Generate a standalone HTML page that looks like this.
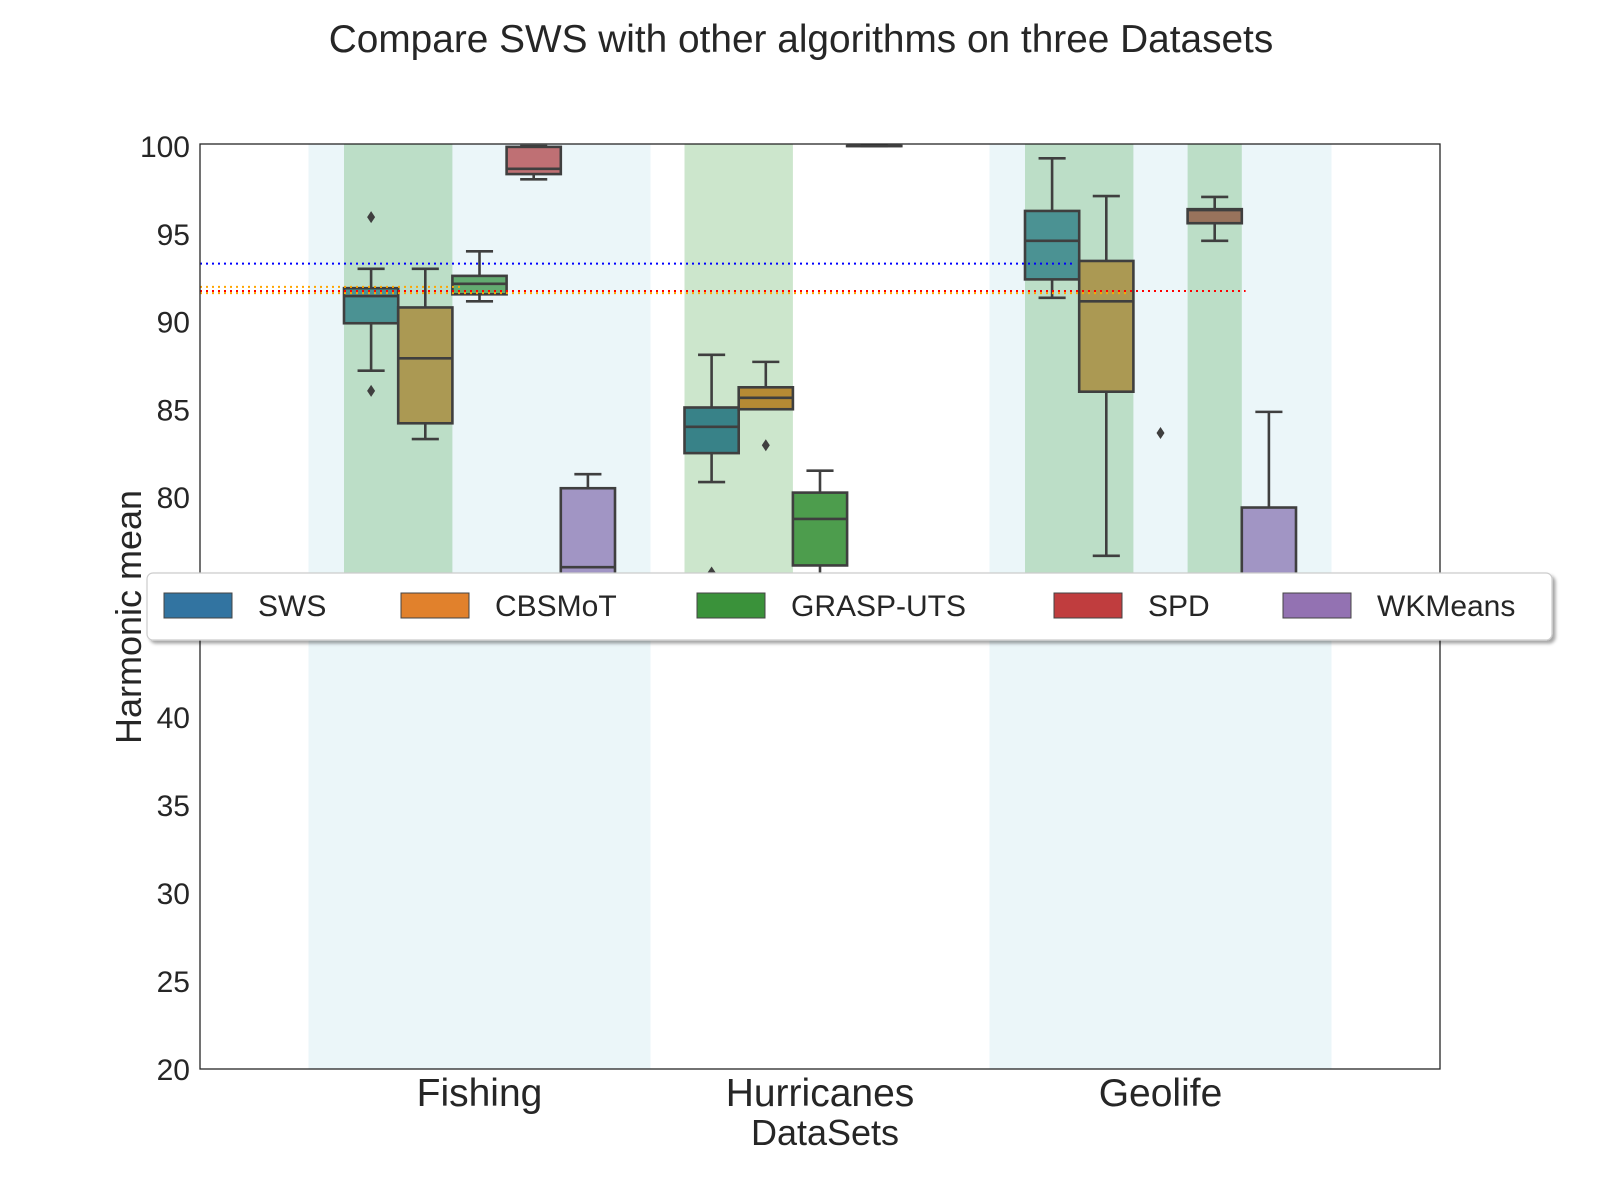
<!DOCTYPE html>
<html><head><meta charset="utf-8">
<style>
html,body{margin:0;padding:0;background:#fff;}
svg{display:block;font-family:"Liberation Sans",Arial,sans-serif;}
</style></head>
<body>
<svg id="chart" width="1600" height="1200" viewBox="0 0 1600 1200" xmlns="http://www.w3.org/2000/svg">
<defs>
<clipPath id="plotclip"><rect x="200" y="144" width="1240" height="460"/></clipPath>
<filter id="shadow" x="-5%" y="-20%" width="110%" height="160%"><feDropShadow dx="3" dy="3" stdDeviation="1.5" flood-color="#000" flood-opacity="0.35"/></filter>
</defs>
<text x="801" y="52" text-anchor="middle" font-size="38.8" fill="#262626">Compare SWS with other algorithms on three Datasets</text>
<g id="boxfills" clip-path="url(#plotclip)"></g>
<g id="overlays"></g>
<g id="lines" clip-path="url(#plotclip)"></g>
<g id="reflines"></g>
<rect x="200" y="144" width="1240" height="925" fill="none" stroke="#262626" stroke-width="1.3"/>
<g id="yticks"></g>
<g id="xticks"></g>
<text x="825" y="1145" text-anchor="middle" font-size="36" fill="#262626">DataSets</text>
<text transform="translate(141,617) rotate(-90)" text-anchor="middle" font-size="36" fill="#262626">Harmonic mean</text>
<g id="legend"></g>
</svg>
<script>
// ---- data ----
const datasets = ["Fishing", "Hurricanes", "Geolife"];
const algorithms = ["SWS", "CBSMoT", "GRASP-UTS", "SPD", "WKMeans"];
const colors = ["#3274a1", "#e1812c", "#3a923a", "#c03d3e", "#9372b2"];
// [whislo, q1, median, q3, whishi] per dataset
const swsStats = [[87.2, 89.9, 91.45, 91.9, 93.0], [80.85, 82.5, 84.0, 85.1, 88.1], [91.35, 92.4, 94.6, 96.3, 99.3]];
const cbsmotStats = [[83.3, 84.2, 87.9, 90.8, 93.0], [85.0, 85.0, 85.65, 86.25, 87.7], [76.65, 86.0, 91.15, 93.45, 97.15]];
const graspStats = [[91.15, 91.55, 92.15, 92.6, 94.0], [72.0, 76.1, 78.75, 80.25, 81.5], [60.0, 65.0, 68.0, 71.0, 73.0]];
const spdStats = [[98.1, 98.4, 98.7, 99.95, 100.0], [100, 100, 100, 100, 100], [94.6, 95.6, 96.35, 96.4, 97.1]];
const wkmeansStats = [[60.0, 70.0, 76.0, 80.5, 81.3], [50.0, 55.0, 60.0, 65.0, 70.0], [60.0, 68.0, 72.0, 79.4, 84.85]];
// outliers: [datasetIndex, algorithmIndex, value]
const outliers = [[0, 0, 95.95], [0, 0, 86.05], [1, 0, 75.7], [1, 1, 82.95], [2, 2, 83.65]];
// reference (mean) lines: value and extent in category units
const refValues = [93.3, 91.97, 91.74, 91.62];
const refColors = ["#0000ff", "#ffa500", "#ff0000", "#ffa500"];
const refEnds = [1.74, -0.05, 2.25, 1.9];
const upperTicks = [100, 95, 90, 85, 80];
const lowerTicks = [40, 35, 30, 25, 20];

const allStats = [swsStats, cbsmotStats, graspStats, spdStats, wkmeansStats];

// ---- scales ----
const X0 = 479.5, XSTEP = 340.5, BOXW = 54.2;
function xCat(i) { return X0 + i * XSTEP; }
function xBox(d, a) { return xCat(d) + (a - 2) * BOXW; }
function yScale(v) { return 146 + (100 - v) * 17.55; }
function yLower(v) { return 1069 - (v - 20) * 17.6; }

const NS = "http://www.w3.org/2000/svg";
function mk(tag, attrs, parent) {
  const e = document.createElementNS(NS, tag);
  for (const k in attrs) e.setAttribute(k, attrs[k]);
  parent.appendChild(e);
  return e;
}
const gFill = document.getElementById("boxfills");
const gOver = document.getElementById("overlays");
const gLines = document.getElementById("lines");
const gRef = document.getElementById("reflines");

// box fills
for (let a = 0; a < algorithms.length; a++) {
  for (let d = 0; d < datasets.length; d++) {
    const s = allStats[a][d];
    const cx = xBox(d, a);
    const r = mk("rect", {x: cx - BOXW / 2, y: yScale(s[3]), width: BOXW, height: Math.max(0.1, yScale(s[1]) - yScale(s[3])), fill: colors[a], "fill-opacity": 0.9}, gFill);
    
    
  }
}

// blue dataset bands (Fishing, Geolife)
[0, 2].forEach(d => {
  const r = mk("rect", {x: xCat(d) - 171, y: 144, width: 342, height: 925, fill: "rgba(173,216,230,0.24)"}, gOver);
  
  
});
// green highlight bands: [dataset, firstAlg, lastAlg]
const greenSpans = [[0, 0, 1], [1, 0, 1], [2, 0, 1], [2, 3, 3]];
greenSpans.forEach(g => {
  const x1 = xBox(g[0], g[1]) - BOXW / 2, x2 = xBox(g[0], g[2]) + BOXW / 2;
  const r = mk("rect", {x: x1, y: 144, width: x2 - x1, height: 440, fill: "rgba(0,128,0,0.2)"}, gOver);
  
  
});

// lines: whiskers, edges, medians
const LC = "#3f3f3f";
for (let a = 0; a < algorithms.length; a++) {
  for (let d = 0; d < datasets.length; d++) {
    const s = allStats[a][d];
    const cx = xBox(d, a), hw = BOXW / 2, cw = BOXW / 4;
    const g = mk("g", {stroke: LC, "stroke-width": 2.6, fill: "none"}, gLines);
    
    
    mk("line", {x1: cx, x2: cx, y1: yScale(s[0]), y2: yScale(s[1])}, g);
    mk("line", {x1: cx, x2: cx, y1: yScale(s[3]), y2: yScale(s[4])}, g);
    mk("line", {x1: cx - cw, x2: cx + cw, y1: yScale(s[0]), y2: yScale(s[0])}, g);
    mk("line", {x1: cx - cw, x2: cx + cw, y1: yScale(s[4]), y2: yScale(s[4])}, g);
    mk("rect", {x: cx - hw, y: yScale(s[3]), width: BOXW, height: Math.max(0.1, yScale(s[1]) - yScale(s[3]))}, g);
    mk("line", {x1: cx - hw, x2: cx + hw, y1: yScale(s[2]), y2: yScale(s[2])}, g);
  }
}
outliers.forEach(o => {
  const cx = xBox(o[0], o[1]), cy = yScale(o[2]);
  const p = mk("path", {d: `M${cx} ${cy - 6}L${cx + 4} ${cy}L${cx} ${cy + 6}L${cx - 4} ${cy}Z`, fill: LC}, gLines);
  
  
});

// reference dotted lines
refValues.forEach((v, i) => {
  const l = mk("line", {x1: 200, x2: xCat(refEnds[i]), y1: yScale(v), y2: yScale(v), stroke: refColors[i], "stroke-width": 2, "stroke-dasharray": "2,4"}, gRef);
  
  
});

// y ticks
const gY = document.getElementById("yticks");
upperTicks.forEach(v => {
  const t = mk("text", {x: 190, y: yScale(v) + 11, "text-anchor": "end", "font-size": 30, fill: "#262626"}, gY);
  t.textContent = v;
  
  
});
lowerTicks.forEach(v => {
  const t = mk("text", {x: 190, y: yLower(v) + 11, "text-anchor": "end", "font-size": 30, fill: "#262626"}, gY);
  t.textContent = v;
  
  
});
// x ticks
const gX = document.getElementById("xticks");
datasets.forEach((n, i) => {
  const t = mk("text", {x: xCat(i), y: 1106, "text-anchor": "middle", "font-size": 39, fill: "#262626"}, gX);
  t.textContent = n;
  
  
});

// legend
const gL = document.getElementById("legend");
const lb = mk("rect", {x: 147, y: 573, width: 1405, height: 67, rx: 6, fill: "#fff", stroke: "#cccccc", "stroke-width": 1.2, filter: "url(#shadow)"}, gL);


const patchX = [164, 401, 697, 1054, 1283];
algorithms.forEach((n, i) => {
  const g = mk("g", {}, gL);
  
  
  mk("rect", {x: patchX[i], y: 593, width: 68, height: 25, fill: colors[i], stroke: "#444", "stroke-width": 1}, g);
  const t = mk("text", {x: patchX[i] + 94, y: 616, "font-size": 30, fill: "#262626"}, g);
  t.textContent = n;
});
</script>
</body></html>
